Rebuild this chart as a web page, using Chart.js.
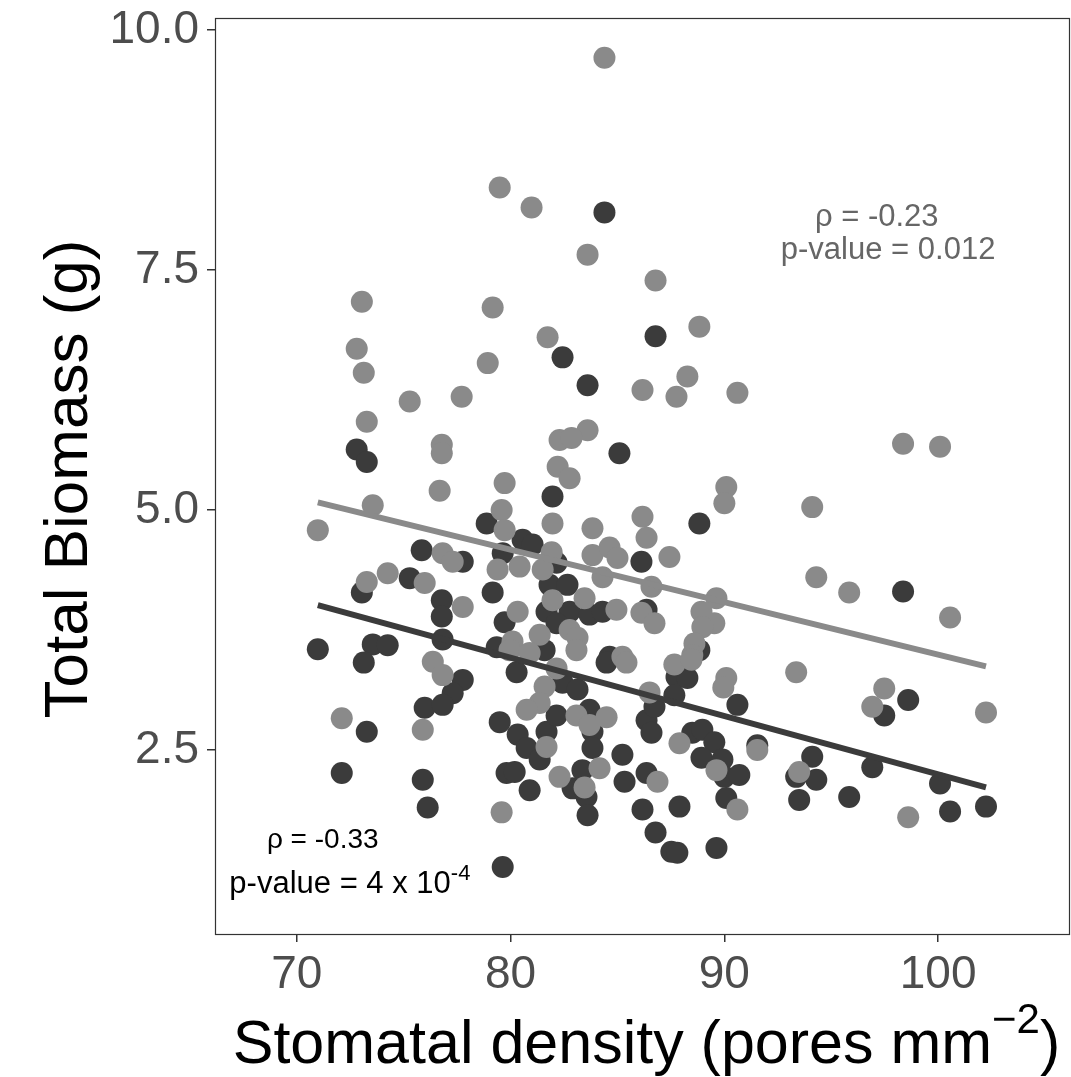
<!DOCTYPE html>
<html>
<head>
<meta charset="utf-8">
<script src="https://cdn.jsdelivr.net/npm/chart.js@4"></script>
<style>
  html, body { margin: 0; padding: 0; background: #ffffff; }
  #wrap { width: 1071px; height: 1077px; }
</style>
</head>
<body>
<div id="wrap"><canvas id="chart" width="1071" height="1077"></canvas></div>
<script>
// Datos: densidad estomatica (x) y biomasa total (y) por grupo
const darkDensity = [70.98, 72.80, 73.27, 73.04, 73.55, 74.25, 73.13, 73.27, 72.10, 75.28,
  75.84, 75.98, 75.89, 76.12, 76.78, 76.78, 76.82, 77.76, 77.76, 77.29,
  76.82, 78.88, 80.56, 81.03, 79.63, 82.15, 86.12, 81.82, 82.66, 79.16,
  81.68, 82.76, 83.69, 84.30, 79.72, 82.15, 79.35, 81.59, 84.63, 84.49,
  80.28, 81.96, 85.09, 79.49, 80.33, 80.75, 81.68, 81.36, 82.15, 82.43,
  83.13, 83.69, 83.83, 83.83, 79.81, 80.19, 80.89, 82.90, 83.36, 83.55,
  85.23, 85.33, 83.60, 86.17, 86.36, 86.36, 79.63, 86.78, 87.76, 88.27,
  87.66, 90.61, 86.73, 86.59, 88.50, 88.97, 89.53, 88.93, 89.91, 90.00,
  90.70, 91.54, 94.11, 93.36, 94.30, 95.84, 93.50, 90.09, 87.90, 87.52,
  87.80, 89.63, 88.83, 86.36, 88.83, 84.39, 82.43, 83.60, 86.78, 98.36,
  98.60, 97.48, 96.92, 100.09, 100.56, 102.24];
const darkBiomass = [3.55, 5.63, 5.50, 4.14, 3.60, 3.59, 3.41, 2.69, 2.26, 4.29,
  4.58, 2.94, 2.19, 1.90, 4.06, 3.89, 3.65, 4.46, 3.23, 3.09,
  2.97, 4.86, 4.69, 4.64, 4.55, 4.45, 4.46, 4.22, 4.22, 4.14,
  3.94, 3.94, 3.91, 3.94, 3.83, 3.82, 3.57, 3.54, 3.47, 3.41,
  3.31, 5.14, 5.59, 2.79, 2.66, 2.52, 2.69, 2.40, 2.86, 3.20,
  3.13, 2.92, 2.69, 2.52, 2.26, 2.27, 2.08, 2.10, 2.29, 2.01,
  2.45, 2.17, 1.82, 1.88, 2.26, 2.81, 1.28, 1.64, 3.26, 3.25,
  3.07, 2.97, 2.95, 2.68, 2.68, 2.71, 2.58, 2.42, 2.40, 2.22,
  2.24, 2.55, 2.43, 2.22, 2.19, 2.01, 1.98, 2.00, 1.91, 1.44,
  1.43, 1.48, 4.86, 3.96, 3.54, 8.10, 6.59, 6.30, 6.81, 4.15,
  3.02, 2.86, 2.32, 2.15, 1.86, 1.91];

const lightDensity = [84.39, 79.49, 80.98, 83.60, 86.78, 73.04, 79.16, 88.83, 81.73, 72.80,
  78.93, 73.13, 88.27, 86.17, 87.76, 90.61, 77.71, 75.28, 73.27, 83.60,
  82.29, 82.85, 76.78, 76.78, 98.36, 100.09, 82.20, 82.76, 79.72, 90.09,
  76.68, 90.00, 73.55, 94.11, 79.58, 86.17, 81.96, 83.83, 70.98, 79.72,
  86.36, 76.82, 77.29, 81.92, 83.83, 84.63, 85.00, 87.43, 79.39, 80.42,
  81.50, 74.25, 73.27, 75.98, 94.30, 84.30, 86.59, 95.84, 89.63, 81.96,
  83.46, 77.76, 80.33, 84.95, 86.12, 86.73, 88.93, 89.53, 88.97, 100.56,
  81.36, 82.76, 83.13, 83.08, 80.09, 79.95, 80.89, 88.60, 88.50, 85.23,
  85.42, 87.66, 88.46, 76.36, 76.82, 82.15, 93.36, 90.09, 89.95, 81.59,
  81.36, 80.75, 83.08, 83.69, 84.49, 86.50, 97.48, 96.92, 102.24, 72.10,
  75.89, 87.90, 81.68, 91.54, 89.63, 93.50, 82.29, 84.16, 83.46, 86.87,
  90.61, 79.58, 98.60];
const lightBiomass = [9.71, 8.36, 8.15, 7.66, 7.39, 7.17, 7.11, 6.91, 6.80, 6.68,
  6.53, 6.43, 6.39, 6.25, 6.18, 6.22, 6.18, 6.13, 5.92, 5.83,
  5.73, 5.75, 5.68, 5.59, 5.69, 5.66, 5.45, 5.33, 5.28, 5.24,
  5.20, 5.07, 5.05, 5.03, 5.00, 4.93, 4.86, 4.81, 4.79, 4.79,
  4.71, 4.55, 4.46, 4.56, 4.53, 4.61, 4.50, 4.51, 4.38, 4.41,
  4.38, 4.34, 4.25, 4.24, 4.30, 4.30, 4.20, 4.14, 4.08, 4.06,
  4.08, 3.99, 3.94, 3.96, 3.93, 3.82, 3.94, 3.82, 3.78, 3.88,
  3.70, 3.75, 3.67, 3.54, 3.63, 3.54, 3.51, 3.61, 3.49, 3.47,
  3.41, 3.39, 3.44, 3.42, 3.28, 3.35, 3.31, 3.25, 3.15, 3.16,
  2.99, 2.92, 2.86, 2.76, 2.84, 3.10, 3.14, 2.95, 2.89, 2.83,
  2.71, 2.57, 2.53, 2.50, 2.29, 2.27, 2.22, 2.31, 2.11, 2.17,
  1.88, 1.85, 1.80];

// Rectas de ajuste (extremos)
const fitDensity = [70.98, 102.24];
const darkFit = [4.01, 2.11];
const lightFit = [5.08, 3.37];

// Marcas de los ejes
const xTicks = [70, 80, 90, 100];
const yTicks = [2.5, 5.0, 7.5, 10.0];

const DARK = '#3b3b3b';
const LIGHT = '#8a8a8a';
const FONT = "'Liberation Sans', Arial, Helvetica, sans-serif";

function toPoints(xs, ys) {
    return xs.map((x, i) => ({ x: x, y: ys[i] }));
}

// Texto con superindice al final
function drawWithSup(ctx, base, sup, tail, x, y, size, supSize, raise) {
    ctx.font = size + 'px ' + FONT;
    const wBase = ctx.measureText(base).width;
    ctx.font = supSize + 'px ' + FONT;
    const wSup = ctx.measureText(sup).width;
    ctx.font = size + 'px ' + FONT;
    const wTail = tail ? ctx.measureText(tail).width : 0;
    const total = wBase + wSup + wTail;
    let cx = x - total / 2;
    ctx.textAlign = 'left';
    ctx.textBaseline = 'alphabetic';
    ctx.fillText(base, cx, y);
    cx += wBase;
    ctx.font = supSize + 'px ' + FONT;
    ctx.fillText(sup, cx, y - raise);
    cx += wSup;
    if (tail) {
        ctx.font = size + 'px ' + FONT;
        ctx.fillText(tail, cx, y);
    }
}

// Plugin: borde del panel, titulos de ejes y anotaciones
const decorPlugin = {
    id: 'decor',
    afterDraw(chart) {
        const ctx = chart.ctx;
        const a = chart.chartArea;
        const xs = chart.scales.x;
        const ys = chart.scales.y;
        ctx.save();

        // borde del panel
        ctx.strokeStyle = '#333333';
        ctx.lineWidth = 1.2;
        ctx.strokeRect(a.left + 0.5, a.top + 0.5, a.right - a.left - 1, a.bottom - a.top);

        // titulo eje Y
        ctx.fillStyle = '#000000';
        ctx.save();
        ctx.translate(87, (a.top + a.bottom) / 2 + 3);
        ctx.rotate(-Math.PI / 2);
        ctx.font = '62px ' + FONT;
        ctx.textAlign = 'center';
        ctx.textBaseline = 'alphabetic';
        ctx.fillText('Total Biomass (g)', 0, 0);
        ctx.restore();

        // titulo eje X
        drawWithSup(ctx, 'Stomatal density (pores mm', '\u22122', ')',
            (a.left + a.right) / 2 + 4, 1063, 61, 42, 30);

        // anotacion grupo claro
        ctx.fillStyle = '#666666';
        ctx.font = '31px ' + FONT;
        ctx.textAlign = 'center';
        ctx.textBaseline = 'alphabetic';
        ctx.fillText('\u03c1 = -0.23', xs.getPixelForValue(97.13), ys.getPixelForValue(7.96));
        ctx.fillText('p-value = 0.012', xs.getPixelForValue(97.66), ys.getPixelForValue(7.61));

        // anotacion grupo oscuro
        ctx.fillStyle = '#000000';
        ctx.font = '28px ' + FONT;
        ctx.fillText('\u03c1 = -0.33', xs.getPixelForValue(71.21), ys.getPixelForValue(1.48));
        drawWithSup(ctx, 'p-value = 4 x 10', '-4', '',
            xs.getPixelForValue(72.48), ys.getPixelForValue(1.01), 31, 22, 13);

        ctx.restore();
    }
};

const ctx = document.getElementById('chart');
new Chart(ctx, {
    type: 'scatter',
    data: {
        datasets: [
            {
                type: 'line',
                data: toPoints(fitDensity, lightFit),
                borderColor: LIGHT,
                borderWidth: 6,
                pointRadius: 0,
                order: 0
            },
            {
                type: 'line',
                data: toPoints(fitDensity, darkFit),
                borderColor: DARK,
                borderWidth: 6,
                pointRadius: 0,
                order: 1
            },
            {
                data: toPoints(lightDensity, lightBiomass),
                backgroundColor: LIGHT,
                borderWidth: 0,
                pointRadius: 11,
                order: 2
            },
            {
                data: toPoints(darkDensity, darkBiomass),
                backgroundColor: DARK,
                borderWidth: 0,
                pointRadius: 11,
                order: 3
            }
        ]
    },
    options: {
        responsive: false,
        animation: false,
        // sin autoPadding: la libreria reservaba el radio del punto a la derecha
        layout: { autoPadding: false, padding: { top: 18, right: 1, left: 0, bottom: 0 } },
        plugins: {
            legend: { display: false },
            tooltip: { enabled: false }
        },
        scales: {
            x: {
                type: 'linear',
                min: 66.17,
                max: 106.17,
                afterBuildTicks(scale) {
                    scale.ticks = xTicks.map(v => ({ value: v }));
                },
                afterFit(scale) {
                    scale.height = 143;
                    scale.paddingLeft = 0;
                    scale.paddingRight = 0;
                },
                border: { display: false },
                grid: {
                    drawOnChartArea: false,
                    drawTicks: true,
                    tickLength: 8,
                    color: '#333333',
                    lineWidth: 1.5
                },
                ticks: {
                    font: { family: FONT, size: 46 },
                    color: '#4d4d4d',
                    padding: 6,
                    maxRotation: 0,
                    callback: v => String(v)
                }
            },
            y: {
                type: 'linear',
                min: 0.583,
                max: 10.125,
                afterBuildTicks(scale) {
                    scale.ticks = yTicks.map(v => ({ value: v }));
                },
                afterFit(scale) {
                    scale.width = 215;
                    scale.paddingTop = 0;
                    scale.paddingBottom = 0;
                },
                border: { display: false },
                grid: {
                    drawOnChartArea: false,
                    drawTicks: true,
                    tickLength: 8,
                    color: '#333333',
                    lineWidth: 1.5
                },
                ticks: {
                    font: { family: FONT, size: 46 },
                    color: '#4d4d4d',
                    padding: 8,
                    callback: v => Number(v).toFixed(1)
                }
            }
        }
    },
    plugins: [decorPlugin]
});
</script>
</body>
</html>
